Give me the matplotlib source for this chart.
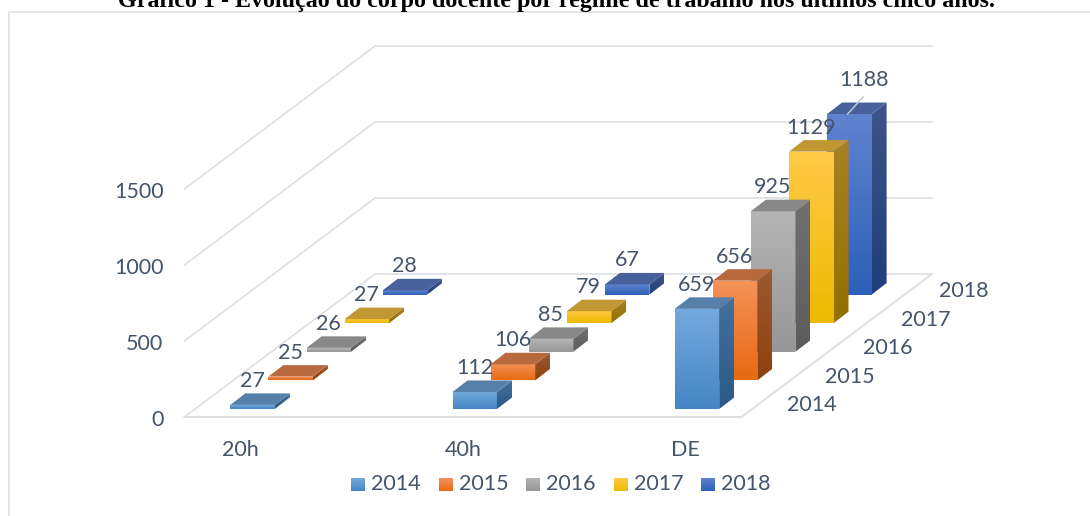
import numpy as np
import matplotlib
matplotlib.use("Agg")
import matplotlib.pyplot as plt
from matplotlib.colors import to_rgb
from matplotlib.patches import Polygon

plt.rcParams['font.family'] = ['Lato', 'DejaVu Sans']

# data
categories = ['20h', '40h', 'DE']
years = ['2014', '2015', '2016', '2017', '2018']
values_2014 = [27, 112, 659]
values_2015 = [25, 106, 656]
values_2016 = [26, 85, 925]
values_2017 = [27, 79, 1129]
values_2018 = [28, 67, 1188]
series = [values_2014, values_2015, values_2016, values_2017, values_2018]
y_ticks = [0, 500, 1000, 1500]

title = 'Gráfico 1 - Evolução do corpo docente por regime de trabalho nos últimos cinco anos.'

# front top, front bottom, side top, side bottom, top face
colors = [
    ('#74a9dd', '#4686c4', '#44709b', '#2b5a86', '#567faa'),
    ('#f49259', '#e76a14', '#9a5a30', '#8f410f', '#b86a3e'),
    ('#b4b4b4', '#979797', '#707070', '#5c5c5c', '#888888'),
    ('#ffca47', '#edb900', '#a78125', '#937000', '#c09732'),
    ('#5f83cf', '#2d60b8', '#3c5589', '#1f3f7a', '#48619b'),
]
text_color = '#44546a'
grid_color = '#dcdee2'

# oblique projection, figure pixels
FLOOR_X, FLOOR_Y = 184.5, 417.0
FLOOR_W = 557.0
PX_PER_UNIT = 76.0 / 500
SLOT_DX, SLOT_DY = 38.1, -28.6
BAR_X0, CAT_STEP = 230.3, 222.2
BAR_Y0 = 409.0
BAR_W = 44.5
BAR_DX, BAR_DY = 15.0, -11.5
FONT = 15.5
TEXT_DY = 1.5  # lato sits a bit high with va=center


def bar_left(cat, year):
    return BAR_X0 + CAT_STEP * cat + SLOT_DX * year


def bar_base(year):
    return BAR_Y0 + SLOT_DY * year


def gradient_poly(ax, verts, top, bottom, zorder):
    """polygon filled with a vertical gradient"""
    verts = np.array(verts)
    t = np.linspace(0, 1, 40)[:, None, None]
    img = np.array(to_rgb(top))[None, None, :] * (1 - t) + np.array(to_rgb(bottom))[None, None, :] * t
    extent = (verts[:, 0].min(), verts[:, 0].max(), verts[:, 1].max(), verts[:, 1].min())
    im = ax.imshow(img, extent=extent, aspect='auto', zorder=zorder, interpolation='bilinear')
    patch = Polygon(verts, closed=True, transform=ax.transData, facecolor='none', edgecolor='none')
    ax.add_patch(patch)
    im.set_clip_path(patch)


def draw_bar(ax, cat, year, value, zorder):
    c = colors[year]
    x = bar_left(cat, year)
    y = bar_base(year)
    h = value * PX_PER_UNIT
    front = [(x, y), (x + BAR_W, y), (x + BAR_W, y - h), (x, y - h)]
    side = [(x + BAR_W, y), (x + BAR_W + BAR_DX, y + BAR_DY),
            (x + BAR_W + BAR_DX, y - h + BAR_DY), (x + BAR_W, y - h)]
    top = [(x, y - h), (x + BAR_W, y - h),
           (x + BAR_W + BAR_DX, y - h + BAR_DY), (x + BAR_DX, y - h + BAR_DY)]
    gradient_poly(ax, side, c[2], c[3], zorder)
    gradient_poly(ax, front, c[0], c[1], zorder + 0.1)
    ax.add_patch(Polygon(top, closed=True, facecolor=c[4], edgecolor='none', zorder=zorder + 0.2))


fig = plt.figure(figsize=(10.9, 5.16), dpi=100)
ax = fig.add_axes([0, 0, 1, 1])

# chart frame
ax.plot([9, 9, 1090], [516, 12, 12], color='#dfe3e8', lw=1.3, zorder=1)

# walls and floor
depth_x, depth_y = SLOT_DX * 5, SLOT_DY * 5
for v in y_ticks:
    y = FLOOR_Y - v * PX_PER_UNIT
    ax.plot([FLOOR_X, FLOOR_X + depth_x, FLOOR_X + depth_x + FLOOR_W],
            [y, y + depth_y, y + depth_y], color=grid_color, lw=1.2, zorder=2)
    ax.text(163.5, y + 1.5 + TEXT_DY, str(v), ha='right', va='center', fontsize=FONT, color=text_color)
ax.plot([FLOOR_X, FLOOR_X + FLOOR_W, FLOOR_X + FLOOR_W + depth_x],
        [FLOOR_Y, FLOOR_Y, FLOOR_Y + depth_y], color=grid_color, lw=1.4, zorder=2)

# bars, back to front
for year in range(len(years) - 1, -1, -1):
    for cat in range(len(categories)):
        draw_bar(ax, cat, year, series[year][cat], 10 + (len(years) - year) * 2)

# data labels
for year in range(len(years)):
    for cat in range(len(categories)):
        value = series[year][cat]
        x = bar_left(cat, year)
        y = bar_base(year) - value * PX_PER_UNIT
        if value == max(values_2018):
            # this one is pulled away with a leader line
            ax.plot([x + 20.5, x + 36], [y, y - 17], color='#bcc6d2', lw=1.1, zorder=40)
            ax.text(x + 36.5, y - 36 + TEXT_DY, str(value), ha='center', va='center', fontsize=FONT,
                    color=text_color, zorder=41)
        else:
            ax.text(x + 22, y - 25.5 + TEXT_DY, str(value), ha='center', va='center', fontsize=FONT,
                    color=text_color, zorder=41)

# category and year axis labels
for cat, name in enumerate(categories):
    ax.text(bar_left(cat, 0) + 10.5, 449 + TEXT_DY, name, ha='center', va='center', fontsize=FONT, color=text_color)
for year, name in enumerate(years):
    ax.text(812 + 37.9 * year, 403.7 - 28.5 * year + TEXT_DY, name, ha='center', va='center',
            fontsize=FONT, color=text_color)

# legend
for year, name in enumerate(years):
    x = 351.3 + 87.5 * year
    box = [(x, 491), (x + 14, 491), (x + 14, 478), (x, 478)]
    gradient_poly(ax, box, colors[year][0], colors[year][1], 20)
    ax.text(x + 20, 482.5 + TEXT_DY, name, ha='left', va='center', fontsize=FONT, color=text_color)

ax.text(556, 7.5, title, ha='center', va='baseline', fontsize=17.3, fontweight='bold',
        family=['Liberation Serif', 'DejaVu Serif'], color='black')

ax.set_xlim(0, 1090)
ax.set_ylim(516, 0)
ax.axis('off')

fig.savefig('out.png', dpi=100, facecolor='white')
